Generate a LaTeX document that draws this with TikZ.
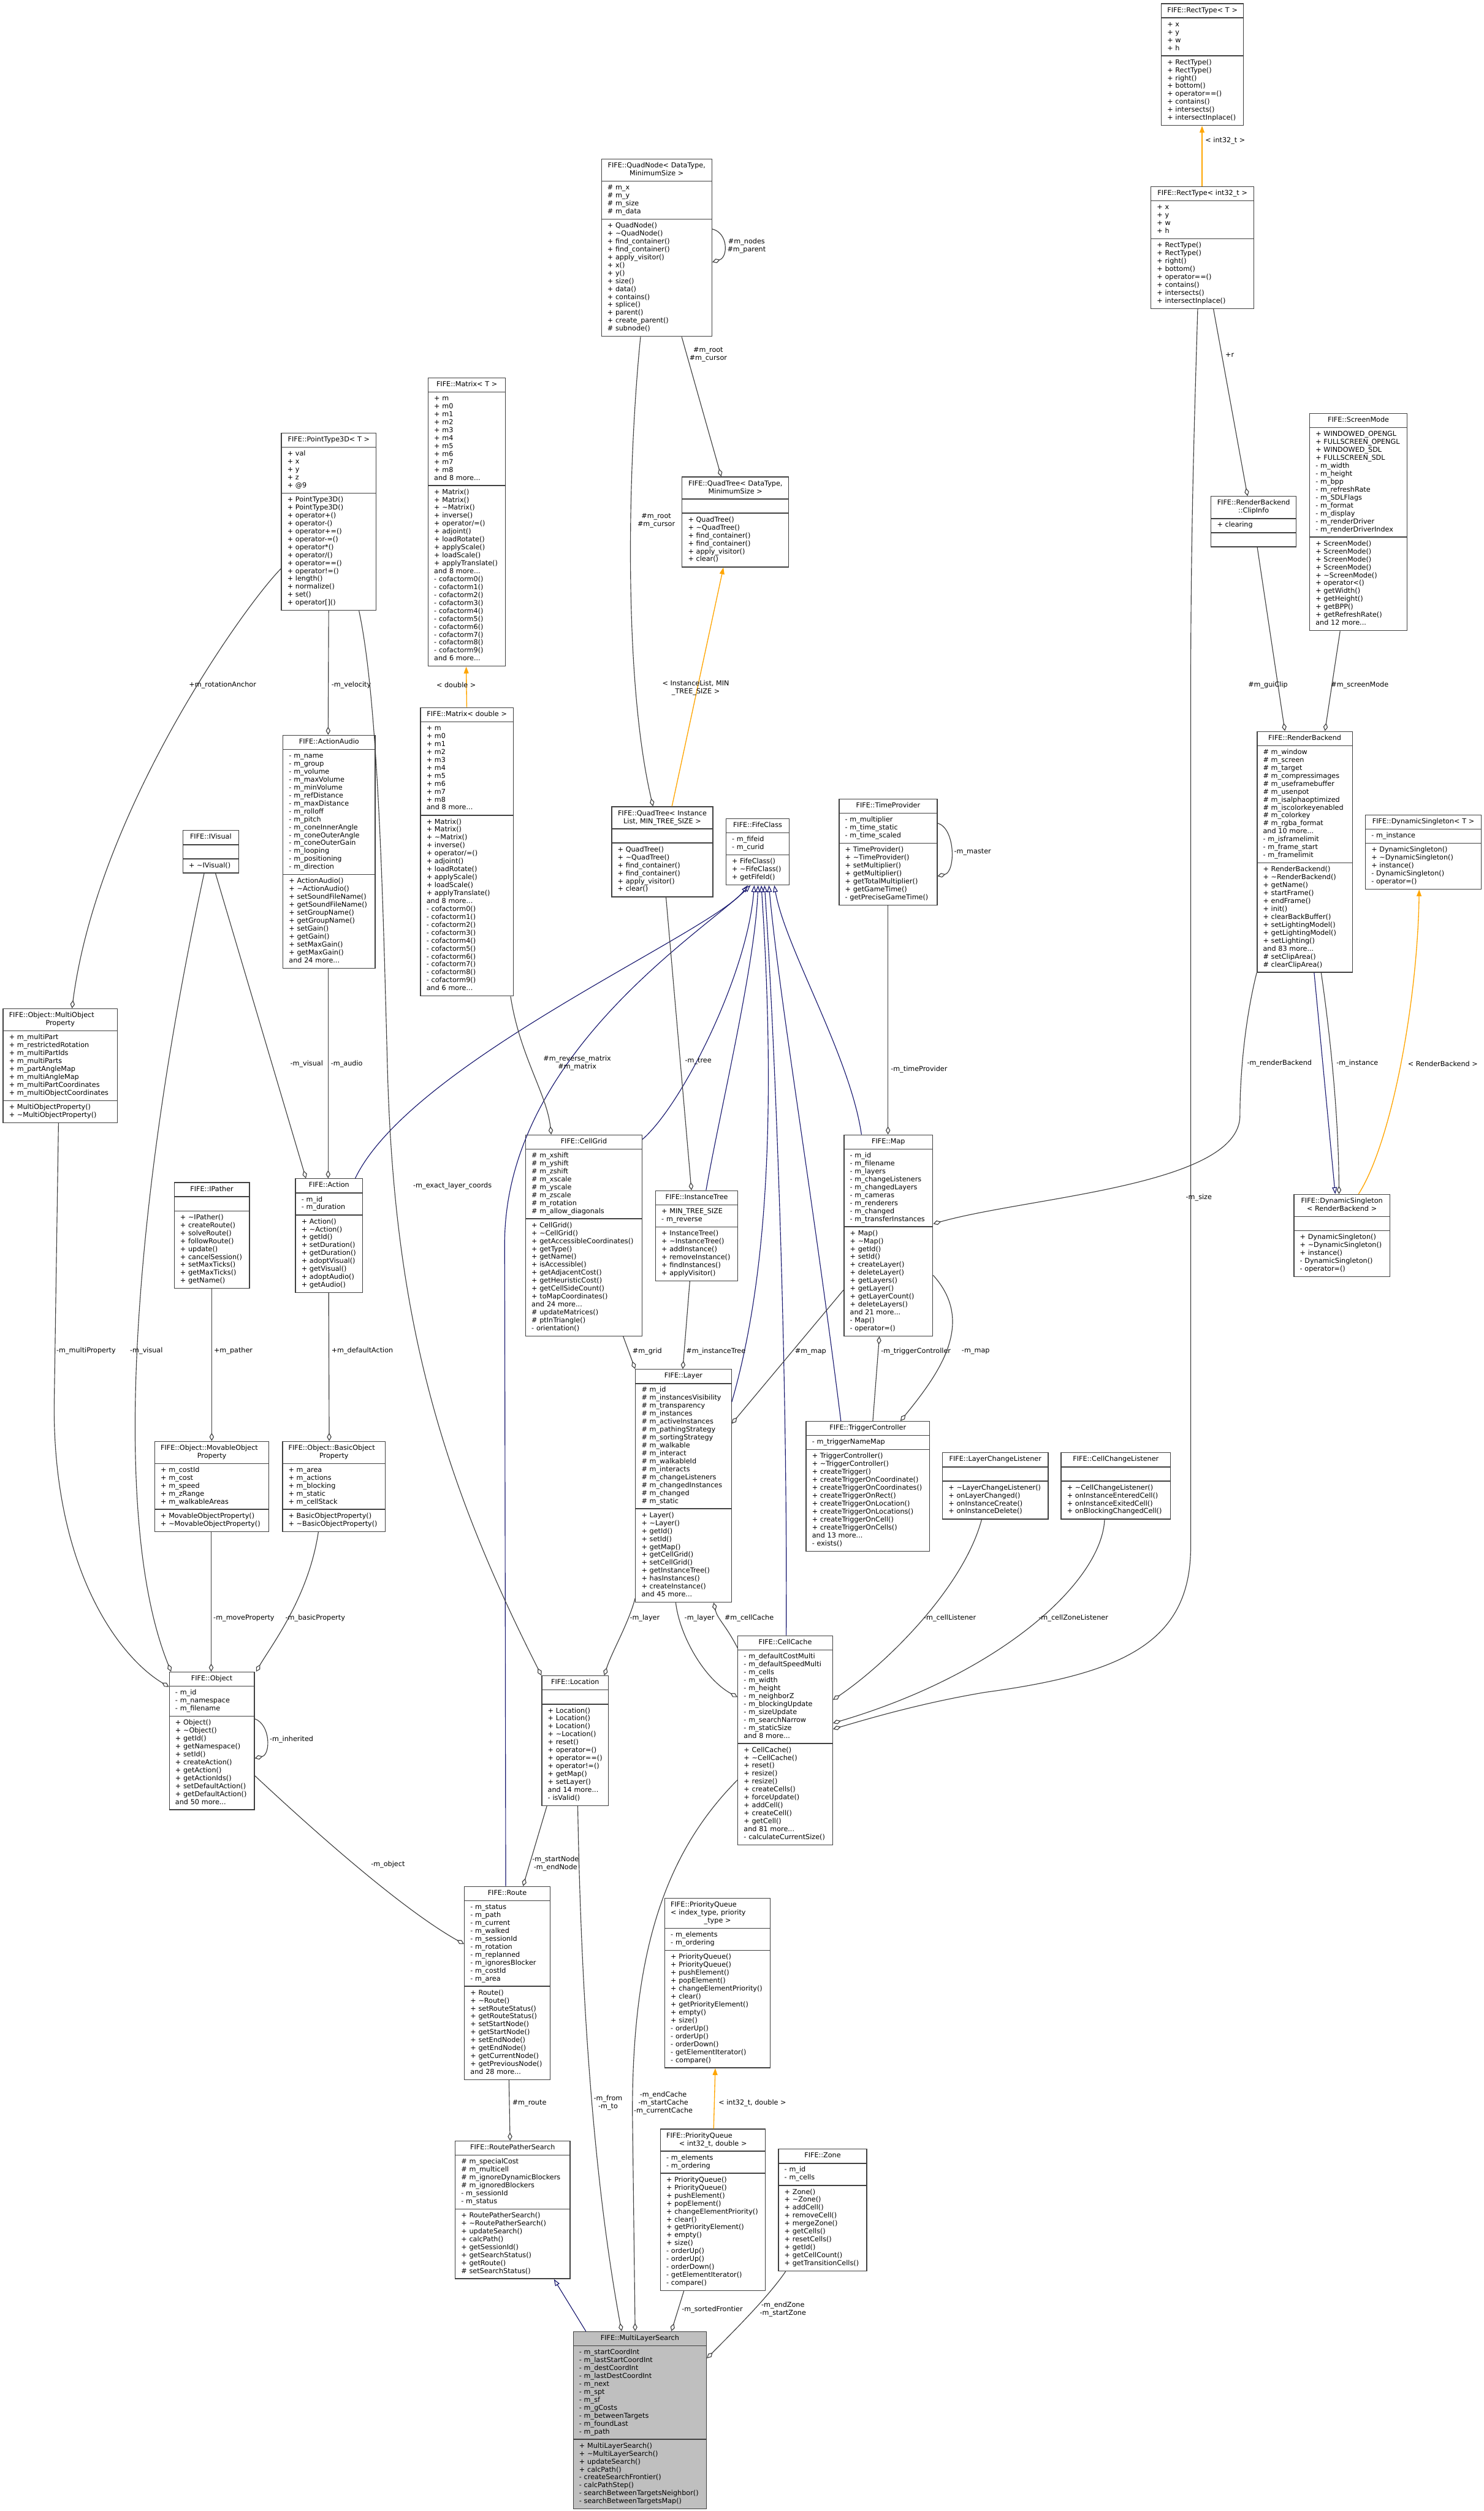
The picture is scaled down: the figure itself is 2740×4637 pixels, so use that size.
\documentclass[tikz,border=0pt]{standalone}
\usepackage{fontspec}
\newfontfamily\umlfont{DejaVu Sans}
\usetikzlibrary{shapes.multipart,arrows.meta}
\definecolor{boxc}{HTML}{404040}
\definecolor{edgec}{HTML}{404040}
\definecolor{inhc}{HTML}{191970}
\definecolor{tplc}{HTML}{FFA500}
\definecolor{mainfill}{HTML}{BFBFBF}
\newcommand\umlfs{\umlfont\fontsize{12.7pt}{14.65pt}\selectfont\parindent=0pt\hyphenpenalty=10000\exhyphenpenalty=10000\relax}
\newcommand\tld{\textasciitilde}
\makeatletter
\def\umlnil{\umlnil}
\def\umlnilm{\umlnil}
\newcommand\umllines[1]{\umll@#1\\\umlnil\\}
\def\umll@#1\\{\def\umlarg{#1}\ifx\umlarg\umlnilm\else\hbox{\strut#1}\expandafter\umll@\fi}
\makeatother
\newcommand\tc[1]{\hbox to\hsize{\hss\strut#1\hss}}
\newcommand\tlft[1]{\hbox to\hsize{\strut#1\hss}}
\tikzset{
  cls/.style={rectangle split, rectangle split parts=3, draw=boxc, line width=1.5pt, fill=white, anchor=north west, inner xsep=11pt, inner ysep=5pt, align=left, font=\umlfs},
  lbl/.style={font=\umlfs, inner sep=0pt, anchor=west, align=center},
  lblc/.style={font=\umlfs, inner sep=0pt, align=center},
  use/.style={draw=edgec, line width=1.3pt, -{Diamond[open,length=15pt,width=8.5pt]}},
  inh/.style={draw=inhc, line width=1.3pt, -{Triangle[open,length=12.5pt,width=9pt]}},
  tpl/.style={draw=tplc, line width=1.5pt, -{Triangle[length=12.5pt,width=9pt]}},
}
\newcommand\uml[8][]{\node[cls,#1,text width=#5pt] (#2) at (#3,#4) {\vbox{#6}\nodepart{two}\vbox{\umllines{#7}}\nodepart{three}\vbox{\umllines{#8}}};}
\begin{document}
\begin{tikzpicture}[x=1pt,y=-1pt]
\useasboundingbox (0,0) rectangle (2740,4637);
% ---------------- classes ----------------
\uml{rectT}{2144}{6}{130}{\tc{FIFE::RectType< T >}}{+ x\\+ y\\+ w\\+ h}{+ RectType()\\+ RectType()\\+ right()\\+ bottom()\\+ operator==()\\+ contains()\\+ intersects()\\+ intersectInplace()}
\uml{rectI}{2125}{344}{168}{\tc{FIFE::RectType< int32\_t >}}{+ x\\+ y\\+ w\\+ h}{+ RectType()\\+ RectType()\\+ right()\\+ bottom()\\+ operator==()\\+ contains()\\+ intersects()\\+ intersectInplace()}
\uml{quadnode}{1110}{293}{182}{\tc{FIFE::QuadNode< DataType,}\tc{MinimumSize >}}{\# m\_x\\\# m\_y\\\# m\_size\\\# m\_data}{+ QuadNode()\\+ \tld QuadNode()\\+ find\_container()\\+ find\_container()\\+ apply\_visitor()\\+ x()\\+ y()\\+ size()\\+ data()\\+ contains()\\+ splice()\\+ parent()\\+ create\_parent()\\\# subnode()}
\uml{quadtreeDT}{1259}{880}{175}{\tc{FIFE::QuadTree< DataType,}\tc{MinimumSize >}}{}{+ QuadTree()\\+ \tld QuadTree()\\+ find\_container()\\+ find\_container()\\+ apply\_visitor()\\+ clear()}
\uml{matrixT}{790}{697}{121}{\tc{FIFE::Matrix< T >}}{+ m\\+ m0\\+ m1\\+ m2\\+ m3\\+ m4\\+ m5\\+ m6\\+ m7\\+ m8\\and 8 more...}{+ Matrix()\\+ Matrix()\\+ \tld Matrix()\\+ inverse()\\+ operator/=()\\+ adjoint()\\+ loadRotate()\\+ applyScale()\\+ loadScale()\\+ applyTranslate()\\and 8 more...\\- cofactorm0()\\- cofactorm1()\\- cofactorm2()\\- cofactorm3()\\- cofactorm4()\\- cofactorm5()\\- cofactorm6()\\- cofactorm7()\\- cofactorm8()\\- cofactorm9()\\and 6 more...}
\uml{pt3d}{519}{799}{153}{\tc{FIFE::PointType3D< T >}}{+ val\\+ x\\+ y\\+ z\\+ @9}{+ PointType3D()\\+ PointType3D()\\+ operator+()\\+ operator-()\\+ operator+=()\\+ operator-=()\\+ operator*()\\+ operator/()\\+ operator==()\\+ operator!=()\\+ length()\\+ normalize()\\+ set()\\+ operator[]()}
\uml{clipinfo}{2236}{916}{135}{\tc{FIFE::RenderBackend}\tc{::ClipInfo}}{+ clearing}{}
\uml{screenmode}{2418}{763}{158}{\tc{FIFE::ScreenMode}}{+ WINDOWED\_OPENGL\\+ FULLSCREEN\_OPENGL\\+ WINDOWED\_SDL\\+ FULLSCREEN\_SDL\\- m\_width\\- m\_height\\- m\_bpp\\- m\_refreshRate\\- m\_SDLFlags\\- m\_format\\- m\_display\\- m\_renderDriver\\- m\_renderDriverIndex}{+ ScreenMode()\\+ ScreenMode()\\+ ScreenMode()\\+ ScreenMode()\\+ \tld ScreenMode()\\+ operator<()\\+ getWidth()\\+ getHeight()\\+ getBPP()\\+ getRefreshRate()\\and 12 more...}
\uml{rb}{2321}{1350}{154}{\tc{FIFE::RenderBackend}}{\# m\_window\\\# m\_screen\\\# m\_target\\\# m\_compressimages\\\# m\_useframebuffer\\\# m\_usenpot\\\# m\_isalphaoptimized\\\# m\_iscolorkeyenabled\\\# m\_colorkey\\\# m\_rgba\_format\\and 10 more...\\- m\_isframelimit\\- m\_frame\_start\\- m\_framelimit}{+ RenderBackend()\\+ \tld RenderBackend()\\+ getName()\\+ startFrame()\\+ endFrame()\\+ init()\\+ clearBackBuffer()\\+ setLightingModel()\\+ getLightingModel()\\+ setLighting()\\and 83 more...\\\# setClipArea()\\\# clearClipArea()}
\uml{dsT}{2521}{1504}{192}{\tc{FIFE::DynamicSingleton< T >}}{- m\_instance}{+ DynamicSingleton()\\+ \tld DynamicSingleton()\\+ instance()\\- DynamicSingleton()\\- operator=()}
\uml{dsRB}{2389}{2205}{155}{\tc{FIFE::DynamicSingleton}\tc{< RenderBackend >}}{}{+ DynamicSingleton()\\+ \tld DynamicSingleton()\\+ instance()\\- DynamicSingleton()\\- operator=()}
\uml{ivisual}{337}{1533}{81}{\tc{FIFE::IVisual}}{}{+ \tld IVisual()}
\uml{actionaudio}{522}{1357}{148}{\tc{FIFE::ActionAudio}}{- m\_name\\- m\_group\\- m\_volume\\- m\_maxVolume\\- m\_minVolume\\- m\_refDistance\\- m\_maxDistance\\- m\_rolloff\\- m\_pitch\\- m\_coneInnerAngle\\- m\_coneOuterAngle\\- m\_coneOuterGain\\- m\_looping\\- m\_positioning\\- m\_direction}{+ ActionAudio()\\+ \tld ActionAudio()\\+ setSoundFileName()\\+ getSoundFileName()\\+ setGroupName()\\+ getGroupName()\\+ setGain()\\+ getGain()\\+ setMaxGain()\\+ getMaxGain()\\and 24 more...}
\uml{matrixD}{776}{1306}{149}{\tc{FIFE::Matrix< double >}}{+ m\\+ m0\\+ m1\\+ m2\\+ m3\\+ m4\\+ m5\\+ m6\\+ m7\\+ m8\\and 8 more...}{+ Matrix()\\+ Matrix()\\+ \tld Matrix()\\+ inverse()\\+ operator/=()\\+ adjoint()\\+ loadRotate()\\+ applyScale()\\+ loadScale()\\+ applyTranslate()\\and 8 more...\\- cofactorm0()\\- cofactorm1()\\- cofactorm2()\\- cofactorm3()\\- cofactorm4()\\- cofactorm5()\\- cofactorm6()\\- cofactorm7()\\- cofactorm8()\\- cofactorm9()\\and 6 more...}
\uml{quadtreeIL}{1129}{1489}{165}{\tc{FIFE::QuadTree< Instance}\tc{List, MIN\_TREE\_SIZE >}}{}{+ QuadTree()\\+ \tld QuadTree()\\+ find\_container()\\+ find\_container()\\+ apply\_visitor()\\+ clear()}
\uml{fifeclass}{1340}{1511}{95}{\tc{FIFE::FifeClass}}{- m\_fifeid\\- m\_curid}{+ FifeClass()\\+ \tld FifeClass()\\+ getFifeId()}
\uml{timeprovider}{1549}{1475}{159}{\tc{FIFE::TimeProvider}}{- m\_multiplier\\- m\_time\_static\\- m\_time\_scaled}{+ TimeProvider()\\+ \tld TimeProvider()\\+ setMultiplier()\\+ getMultiplier()\\+ getTotalMultiplier()\\+ getGameTime()\\- getPreciseGameTime()}
\uml{mop}{5}{1862}{189}{\tlft{FIFE::Object::MultiObject}\tc{Property}}{+ m\_multiPart\\+ m\_restrictedRotation\\+ m\_multiPartIds\\+ m\_multiParts\\+ m\_partAngleMap\\+ m\_multiAngleMap\\+ m\_multiPartCoordinates\\+ m\_multiObjectCoordinates}{+ MultiObjectProperty()\\+ \tld MultiObjectProperty()}
\uml{ipather}{321}{2183}{117}{\tc{FIFE::IPather}}{}{+ \tld IPather()\\+ createRoute()\\+ solveRoute()\\+ followRoute()\\+ update()\\+ cancelSession()\\+ setMaxTicks()\\+ getMaxTicks()\\+ getName()}
\uml{action}{545}{2176}{102}{\tc{FIFE::Action}}{- m\_id\\- m\_duration}{+ Action()\\+ \tld Action()\\+ getId()\\+ setDuration()\\+ getDuration()\\+ adoptVisual()\\+ getVisual()\\+ adoptAudio()\\+ getAudio()}
\uml{cellgrid}{970}{2095}{193}{\tc{FIFE::CellGrid}}{\# m\_xshift\\\# m\_yshift\\\# m\_zshift\\\# m\_xscale\\\# m\_yscale\\\# m\_zscale\\\# m\_rotation\\\# m\_allow\_diagonals}{+ CellGrid()\\+ \tld CellGrid()\\+ getAccessibleCoordinates()\\+ getType()\\+ getName()\\+ isAccessible()\\+ getAdjacentCost()\\+ getHeuristicCost()\\+ getCellSideCount()\\+ toMapCoordinates()\\and 24 more...\\\# updateMatrices()\\\# ptInTriangle()\\- orientation()}
\uml{instancetree}{1210}{2198}{130}{\tc{FIFE::InstanceTree}}{+ MIN\_TREE\_SIZE\\- m\_reverse}{+ InstanceTree()\\+ \tld InstanceTree()\\+ addInstance()\\+ removeInstance()\\+ findInstances()\\+ applyVisitor()}
\uml{map}{1558}{2095}{142}{\tc{FIFE::Map}}{- m\_id\\- m\_filename\\- m\_layers\\- m\_changeListeners\\- m\_changedLayers\\- m\_cameras\\- m\_renderers\\- m\_changed\\- m\_transferInstances}{+ Map()\\+ \tld Map()\\+ getId()\\+ setId()\\+ createLayer()\\+ deleteLayer()\\+ getLayers()\\+ getLayer()\\+ getLayerCount()\\+ deleteLayers()\\and 21 more...\\- Map()\\- operator=()}
\uml{layer}{1173}{2528}{155}{\tc{FIFE::Layer}}{\# m\_id\\\# m\_instancesVisibility\\\# m\_transparency\\\# m\_instances\\\# m\_activeInstances\\\# m\_pathingStrategy\\\# m\_sortingStrategy\\\# m\_walkable\\\# m\_interact\\\# m\_walkableId\\\# m\_interacts\\\# m\_changeListeners\\\# m\_changedInstances\\\# m\_changed\\\# m\_static}{+ Layer()\\+ \tld Layer()\\+ getId()\\+ setId()\\+ getMap()\\+ getCellGrid()\\+ setCellGrid()\\+ getInstanceTree()\\+ hasInstances()\\+ createInstance()\\and 45 more...}
\uml{trigger}{1488}{2624}{206}{\tc{FIFE::TriggerController}}{- m\_triggerNameMap}{+ TriggerController()\\+ \tld TriggerController()\\+ createTrigger()\\+ createTriggerOnCoordinate()\\+ createTriggerOnCoordinates()\\+ createTriggerOnRect()\\+ createTriggerOnLocation()\\+ createTriggerOnLocations()\\+ createTriggerOnCell()\\+ createTriggerOnCells()\\and 13 more...\\- exists()}
\uml{lcl}{1740}{2682}{173}{\tc{FIFE::LayerChangeListener}}{}{+ \tld LayerChangeListener()\\+ onLayerChanged()\\+ onInstanceCreate()\\+ onInstanceDelete()}
\uml{ccl}{1959}{2682}{180}{\tc{FIFE::CellChangeListener}}{}{+ \tld CellChangeListener()\\+ onInstanceEnteredCell()\\+ onInstanceExitedCell()\\+ onBlockingChangedCell()}
\uml{movable}{285}{2661}{189}{\tlft{FIFE::Object::MovableObject}\tc{Property}}{+ m\_costId\\+ m\_cost\\+ m\_speed\\+ m\_zRange\\+ m\_walkableAreas}{+ MovableObjectProperty()\\+ \tld MovableObjectProperty()}
\uml{basic}{521}{2661}{168}{\tlft{FIFE::Object::BasicObject}\tc{Property}}{+ m\_area\\+ m\_actions\\+ m\_blocking\\+ m\_static\\+ m\_cellStack}{+ BasicObjectProperty()\\+ \tld BasicObjectProperty()}
\uml{object}{312}{3087}{135}{\tc{FIFE::Object}}{- m\_id\\- m\_namespace\\- m\_filename}{+ Object()\\+ \tld Object()\\+ getId()\\+ getNamespace()\\+ setId()\\+ createAction()\\+ getAction()\\+ getActionIds()\\+ setDefaultAction()\\+ getDefaultAction()\\and 50 more...}
\uml{location}{1000}{3094}{101}{\tc{FIFE::Location}}{}{+ Location()\\+ Location()\\+ Location()\\+ \tld Location()\\+ reset()\\+ operator=()\\+ operator==()\\+ operator!=()\\+ getMap()\\+ setLayer()\\and 14 more...\\- isValid()}
\uml{cellcache}{1362}{3020}{153}{\tc{FIFE::CellCache}}{- m\_defaultCostMulti\\- m\_defaultSpeedMulti\\- m\_cells\\- m\_width\\- m\_height\\- m\_neighborZ\\- m\_blockingUpdate\\- m\_sizeUpdate\\- m\_searchNarrow\\- m\_staticSize\\and 8 more...}{+ CellCache()\\+ \tld CellCache()\\+ reset()\\+ resize()\\+ resize()\\+ createCells()\\+ forceUpdate()\\+ addCell()\\+ createCell()\\+ getCell()\\and 81 more...\\- calculateCurrentSize()}
\uml{route}{857}{3483}{136}{\tc{FIFE::Route}}{- m\_status\\- m\_path\\- m\_current\\- m\_walked\\- m\_sessionId\\- m\_rotation\\- m\_replanned\\- m\_ignoresBlocker\\- m\_costId\\- m\_area}{+ Route()\\+ \tld Route()\\+ setRouteStatus()\\+ getRouteStatus()\\+ setStartNode()\\+ getStartNode()\\+ setEndNode()\\+ getEndNode()\\+ getCurrentNode()\\+ getPreviousNode()\\and 28 more...}
\uml{pq}{1227}{3505}{173}{\tlft{FIFE::PriorityQueue}\tlft{< index\_type, priority}\tc{\_type >}}{- m\_elements\\- m\_ordering}{+ PriorityQueue()\\+ PriorityQueue()\\+ pushElement()\\+ popElement()\\+ changeElementPriority()\\+ clear()\\+ getPriorityElement()\\+ empty()\\+ size()\\- orderUp()\\- orderUp()\\- orderDown()\\- getElementIterator()\\- compare()}
\uml{pq2}{1219}{3931}{172}{\tlft{FIFE::PriorityQueue}\tc{< int32\_t, double >}}{- m\_elements\\- m\_ordering}{+ PriorityQueue()\\+ PriorityQueue()\\+ pushElement()\\+ popElement()\\+ changeElementPriority()\\+ clear()\\+ getPriorityElement()\\+ empty()\\+ size()\\- orderUp()\\- orderUp()\\- orderDown()\\- getElementIterator()\\- compare()}
\uml{zone}{1437}{3968}{141}{\tc{FIFE::Zone}}{- m\_id\\- m\_cells}{+ Zone()\\+ \tld Zone()\\+ addCell()\\+ removeCell()\\+ mergeZone()\\+ getCells()\\+ resetCells()\\+ getId()\\+ getCellCount()\\+ getTransitionCells()}
\uml{rps}{840}{3953}{190}{\tc{FIFE::RoutePatherSearch}}{\# m\_specialCost\\\# m\_multicell\\\# m\_ignoreDynamicBlockers\\\# m\_ignoredBlockers\\- m\_sessionId\\- m\_status}{+ RoutePatherSearch()\\+ \tld RoutePatherSearch()\\+ updateSearch()\\+ calcPath()\\+ getSessionId()\\+ getSearchStatus()\\+ getRoute()\\\# setSearchStatus()}
\uml[fill=mainfill]{mls}{1058}{4305}{224}{\tc{FIFE::MultiLayerSearch}}{- m\_startCoordInt\\- m\_lastStartCoordInt\\- m\_destCoordInt\\- m\_lastDestCoordInt\\- m\_next\\- m\_spt\\- m\_sf\\- m\_gCosts\\- m\_betweenTargets\\- m\_foundLast\\- m\_path}{+ MultiLayerSearch()\\+ \tld MultiLayerSearch()\\+ updateSearch()\\+ calcPath()\\- createSearchFrontier()\\- calcPathStep()\\- searchBetweenTargetsNeighbor()\\- searchBetweenTargetsMap()}
% ---------------- template instantiation ----------------
\draw[tpl] ([xshift=95pt]rectI.north west) -- ([xshift=76pt]rectT.south west);
\node[lbl] (t1) at (2226,260) {< int32\_t >};
\draw[tpl] ([xshift=86pt]matrixD.north west) -- ([xshift=71pt]matrixT.south west);
\node[lbl] (t2) at (806,1265) {< double >};
\draw[tpl] ([xshift=112pt]quadtreeIL.north west) -- ([xshift=77pt]quadtreeDT.south west);
\node[lblc] (t3) at (1285,1270) {< InstanceList, MIN\\\_TREE\_SIZE >};
\draw[tpl] ([xshift=99pt]pq2.north west) -- ([xshift=94pt]pq.south west);
\node[lbl] (t4) at (1327,3884) {< int32\_t, double >};
\draw[tpl] ([xshift=120pt]dsRB.north west) .. controls (2570,2110) and (2618,1850) .. ([xshift=100pt]dsT.south west);
\node[lbl] (t5) at (2600,1964) {< RenderBackend >};
% ---------------- inheritance ----------------
\draw[inh] ([xshift=106pt]rb.south west) -- ([xshift=77pt]dsRB.north west);
\draw[inh] ([xshift=24pt]mls.north west) -- ([xshift=183pt]rps.south west);
\draw[inh] ([xshift=111pt]action.north west) .. controls (760,1960) and (1320,1720) .. ([xshift=41pt]fifeclass.south west);
\draw[inh] ([xshift=77pt]route.north west) -- (932,2300) .. controls (930,1950) and (1300,1720) .. ([xshift=46pt]fifeclass.south west);
\draw[inh] ([yshift=-9pt]cellgrid.north east) .. controls (1260,2040) and (1380,1800) .. ([xshift=53pt]fifeclass.south west);
\draw[inh] ([xshift=94pt]instancetree.north west) .. controls (1330,2050) and (1395,1780) .. ([xshift=60pt]fifeclass.south west);
\draw[inh] ([yshift=-61pt]layer.north east) .. controls (1400,2420) and (1440,2150) .. ([xshift=66pt]fifeclass.south west);
\draw[inh] ([xshift=90pt]cellcache.north west) .. controls (1455,2500) and (1430,1900) .. ([xshift=72pt]fifeclass.south west);
\draw[inh] ([xshift=65pt]trigger.north west) .. controls (1500,2200) and (1440,1850) .. ([xshift=80pt]fifeclass.south west);
\draw[inh] ([xshift=33pt]map.north west) .. controls (1570,1950) and (1450,1750) .. ([xshift=90pt]fifeclass.south west);
% ---------------- usage ----------------
\draw[use] ([yshift=-130pt]quadnode.north east) .. controls (1345,430) and (1345,475) .. ([yshift=-191pt]quadnode.north east);
\node[lbl] (u1) at (1343,454) {\#m\_nodes\\\#m\_parent};
\draw[use] ([xshift=149pt]quadnode.south west) -- ([xshift=73pt]quadtreeDT.north west);
\node[lblc] (u2) at (1308,655) {\#m\_root\\\#m\_cursor};
\draw[use] ([xshift=73pt]quadnode.south west) .. controls (1160,850) and (1150,1250) .. ([xshift=77pt]quadtreeIL.north west);
\node[lblc] (u3) at (1212,961) {\#m\_root\\\#m\_cursor};
\draw[use] ([xshift=116pt]rectI.south west) -- ([xshift=68pt]clipinfo.north west);
\node[lbl] (u4) at (2263,656) {+r};
\draw[use] ([xshift=86pt]clipinfo.south west) -- ([xshift=52pt]rb.north west);
\node[lbl] (u5) at (2305,1265) {\#m\_guiClip};
\draw[use] ([xshift=57pt]screenmode.south west) -- ([xshift=126pt]rb.north west);
\node[lbl] (u6) at (2458,1265) {\#m\_screenMode};
\draw[use] ([xshift=87pt]rectI.south west) .. controls (2205,800) and (2199,1000) .. (2199,1300) -- (2199,2850) .. controls (2202,3030) and (2080,3090) .. (1820,3125) .. controls (1700,3145) and (1600,3175) .. ([yshift=-173pt]cellcache.north east);
\node[lbl] (u7) at (2190,2211) {-m\_size};
\draw[use] (rb.south west) .. controls (2300,1880) and (2290,1980) .. (2290,2060) .. controls (2290,2190) and (1900,2210) .. ([yshift=-165pt]map.north east);
\node[lbl] (u8) at (2303,1964) {-m\_renderBackend};
\draw[use] ([xshift=119pt]rb.south west) .. controls (2455,1900) and (2472,2050) .. ([xshift=84pt]dsRB.north west);
\node[lbl] (u9) at (2468,1964) {-m\_instance};
\draw[use] ([yshift=-45pt]timeprovider.north east) .. controls (1765,1530) and (1765,1610) .. ([yshift=-143pt]timeprovider.north east);
\node[lbl] (u10) at (1762,1573) {-m\_master};
\draw[use] ([xshift=91pt]timeprovider.south west) -- ([xshift=82pt]map.north west);
\node[lbl] (u11) at (1645,1975) {-m\_timeProvider};
\draw[use] ([xshift=88pt]pt3d.south west) -- ([xshift=84pt]actionaudio.north west);
\node[lbl] (u12) at (612,1265) {-m\_velocity};
\draw[use] ([xshift=84pt]actionaudio.south west) -- ([xshift=61pt]action.north west);
\node[lbl] (u13) at (611,1965) {-m\_audio};
\draw[use] ([xshift=61pt]ivisual.south west) -- ([xshift=20pt]action.north west);
\node[lbl] (u14) at (536,1965) {-m\_visual};
\draw[use] ([xshift=40pt]ivisual.south west) .. controls (250,2200) and (200,2800) .. ([xshift=4pt]object.north west);
\node[lbl] (u15) at (240,2495) {-m\_visual};
\draw[use] ([xshift=103pt]mop.south west) -- (100,2600) .. controls (100,2900) and (220,3060) .. ([yshift=-28pt]object.north west);
\node[lbl] (u16) at (104,2495) {-m\_multiProperty};
\draw[use] ([yshift=-251pt]pt3d.north west) .. controls (450,1120) and (180,1500) .. ([xshift=128pt]mop.north west);
\node[lbl] (u17) at (349,1265) {+m\_rotationAnchor};
\draw[use] ([xshift=144pt]pt3d.south west) .. controls (700,1300) and (708,1700) .. (715,1950) .. controls (725,2400) and (800,2700) .. (location.north west);
\node[lbl] (u18) at (763,2190) {-m\_exact\_layer\_coords};
\draw[use] ([xshift=70pt]ipather.south west) -- ([xshift=106pt]movable.north west);
\node[lbl] (u19) at (395,2495) {+m\_pather};
\draw[use] ([xshift=62pt]action.south west) -- ([xshift=87pt]basic.north west);
\node[lbl] (u20) at (612,2495) {+m\_defaultAction};
\draw[use] ([xshift=105pt]movable.south west) -- ([xshift=78pt]object.north west);
\node[lbl] (u21) at (394,2988) {-m\_moveProperty};
\draw[use] ([xshift=67pt]basic.south west) .. controls (570,2950) and (500,3040) .. ([xshift=161pt]object.north west);
\node[lbl] (u22) at (527,2988) {-m\_basicProperty};
\draw[use] ([yshift=-87pt]object.north east) .. controls (500,3185) and (500,3240) .. ([yshift=-160pt]object.north east);
\node[lbl] (u23) at (498,3212) {-m\_inherited};
\draw[use] ([yshift=-192pt]object.north east) .. controls (600,3400) and (750,3530) .. ([yshift=-107pt]route.north west);
\node[lbl] (u24) at (685,3443) {-m\_object};
\draw[use] ([xshift=167pt]matrixD.south west) .. controls (960,1950) and (1010,2020) .. ([xshift=48pt]cellgrid.north west);
\node[lblc] (u25) at (1066,1963) {\#m\_reverse\_matrix\\\#m\_matrix};
\draw[use] ([xshift=101pt]quadtreeIL.south west) -- ([xshift=67pt]instancetree.north west);
\node[lbl] (u26) at (1265,1960) {-m\_tree};
\draw[use] ([xshift=181pt]cellgrid.south west) -- (layer.north west);
\node[lbl] (u27) at (1168,2496) {\#m\_grid};
\draw[use] ([xshift=64pt]instancetree.south west) -- ([xshift=88pt]layer.north west);
\node[lbl] (u28) at (1267,2496) {\#m\_instanceTree};
\draw[use] ([yshift=-287pt]map.north west) -- ([yshift=-101pt]layer.north east);
\node[lbl] (u29) at (1468,2496) {\#m\_map};
\draw[use] ([xshift=124pt]trigger.north west) -- ([xshift=66pt]map.south west);
\node[lbl] (u30) at (1627,2496) {-m\_triggerController};
\draw[use] ([yshift=-260pt]map.north east) .. controls (1800,2440) and (1740,2530) .. ([xshift=175pt]trigger.north west);
\node[lbl] (u31) at (1776,2496) {-m\_map};
\draw[use] ([yshift=8pt]layer.south west) .. controls (1160,3000) and (1130,3050) .. ([xshift=116pt]location.north west);
\node[lbl] (u32) at (1163,2988) {-m\_layer};
\draw[use] ([xshift=75pt]layer.south west) .. controls (1255,3020) and (1300,3100) .. ([yshift=-114pt]cellcache.north west);
\node[lbl] (u33) at (1264,2988) {-m\_layer};
\draw[use] ([yshift=-23pt]cellcache.north west) .. controls (1340,3000) and (1325,2990) .. ([xshift=145pt]layer.south west);
\node[lbl] (u34) at (1338,2988) {\#m\_cellCache};
\draw[use] ([xshift=73pt]lcl.south west) .. controls (1780,2930) and (1640,3070) .. ([yshift=-119pt]cellcache.north east);
\node[lbl] (u35) at (1706,2988) {-m\_cellListener};
\draw[use] ([xshift=81pt]ccl.south west) .. controls (2035,2920) and (1850,3090) .. ([yshift=-162pt]cellcache.north east);
\node[lbl] (u36) at (1918,2988) {-m\_cellZoneListener};
\draw[use] ([xshift=10pt]location.south west) -- ([xshift=109pt]route.north west);
\node[lblc] (u37) at (1026,3442) {-m\_startNode\\-m\_endNode};
\draw[use] ([xshift=67pt]location.south west) .. controls (1075,3800) and (1110,4100) .. ([xshift=90pt]mls.north west);
\node[lblc] (u38) at (1123,3883) {-m\_from\\-m\_to};
\draw[use] ([yshift=-267pt]cellcache.north west) .. controls (1230,3420) and (1168,3600) .. (1168,3900) -- ([xshift=115pt]mls.north west);
\node[lblc] (u39) at (1225,3884) {-m\_endCache\\-m\_startCache\\-m\_currentCache};
\draw[use] ([xshift=83pt]route.south west) -- ([xshift=102pt]rps.north west);
\node[lbl] (u40) at (946,3884) {\#m\_route};
\draw[use] ([xshift=44pt]pq2.south west) -- ([xshift=182pt]mls.north west);
\node[lbl] (u41) at (1259,4265) {-m\_sortedFrontier};
\draw[use] ([xshift=14pt]zone.south west) .. controls (1420,4240) and (1360,4300) .. ([yshift=-50pt]mls.north east);
\node[lblc] (u42) at (1446,4265) {-m\_endZone\\-m\_startZone};
\end{tikzpicture}
\end{document}
